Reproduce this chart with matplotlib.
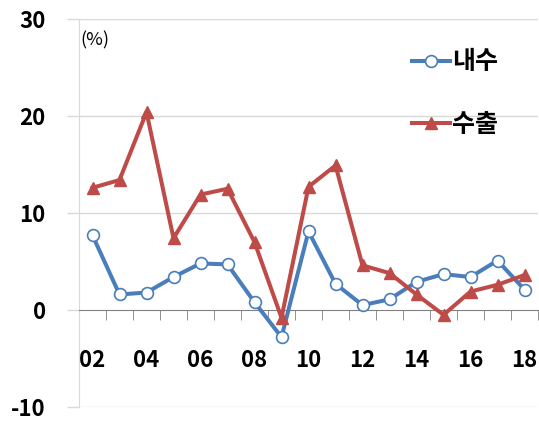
import matplotlib
matplotlib.use("Agg")
import matplotlib.pyplot as plt
import numpy as np

years = ["02", "03", "04", "05", "06", "07", "08", "09", "10", "11", "12", "13", "14", "15", "16", "17", "18"]
domestic = [7.7, 1.6, 1.8, 3.4, 4.8, 4.7, 0.8, -2.8, 8.1, 2.7, 0.5, 1.1, 2.9, 3.7, 3.4, 5.1, 2.1]
exports = [12.6, 13.4, 20.4, 7.4, 11.9, 12.5, 7.0, -0.8, 12.7, 14.9, 4.6, 3.8, 1.6, -0.5, 1.9, 2.6, 3.6]
labels = ["내수", "수출"]
yticks = [-10, 0, 10, 20, 30]

plt.rcParams['font.family'] = ['Noto Sans CJK KR', 'DejaVu Sans']

fig = plt.figure(figsize=(5.39, 4.21), dpi=100)
ax = fig.add_axes([79/539, 1-407/421, (538-79)/539, (407-19)/421])

x = np.arange(len(years))
blue = '#4A7EBB'
red = '#BE4B48'
ax.plot(x, domestic, color=blue, lw=2.9, marker='o', ms=8.5, mfc='white', mec=blue, mew=1.2, label=labels[0], zorder=3)
ax.plot(x, exports, color=red, lw=2.9, marker='^', ms=9, mfc=red, mec=red, label=labels[1], zorder=3)

ax.set_xlim(-0.5, len(years) - 0.5)
ax.set_ylim(-10, 30)
ax.set_yticks(yticks)
ax.set_yticklabels([str(v) for v in yticks], fontsize=16, fontweight='bold')
for v in yticks:
    if v != 0:
        ax.axhline(v, color='#d9d9d9', lw=1.0, zorder=1)
ax.tick_params(axis='y', length=9, color='#d9d9d9', pad=15, width=1.0)

ax.spines['top'].set_visible(False)
ax.spines['right'].set_visible(False)
ax.spines['left'].set_color('#d9d9d9')
ax.spines['bottom'].set_position(('data', 0))
ax.spines['bottom'].set_color('#808080')

ax.set_xticks(x[::2])
ax.set_xticklabels(years[::2], fontsize=16, fontweight='bold')
ax.set_xticks(np.arange(-0.5, len(years), 1.0), minor=True)
ax.tick_params(axis='x', which='major', length=0, pad=28)
ax.tick_params(axis='x', which='minor', length=7, color='#808080', direction='out')

ax.text(0.003, 0.945, "(%)", transform=ax.transAxes, fontsize=13, va='center', ha='left')

leg = ax.legend(loc='upper right', bbox_to_anchor=(0.935, 0.945), frameon=False,
                prop={'size': 18, 'weight': 'bold'}, handlelength=1.5, handletextpad=0.1,
                labelspacing=1.55, borderaxespad=0)

fig.savefig("out.png", dpi=100)
